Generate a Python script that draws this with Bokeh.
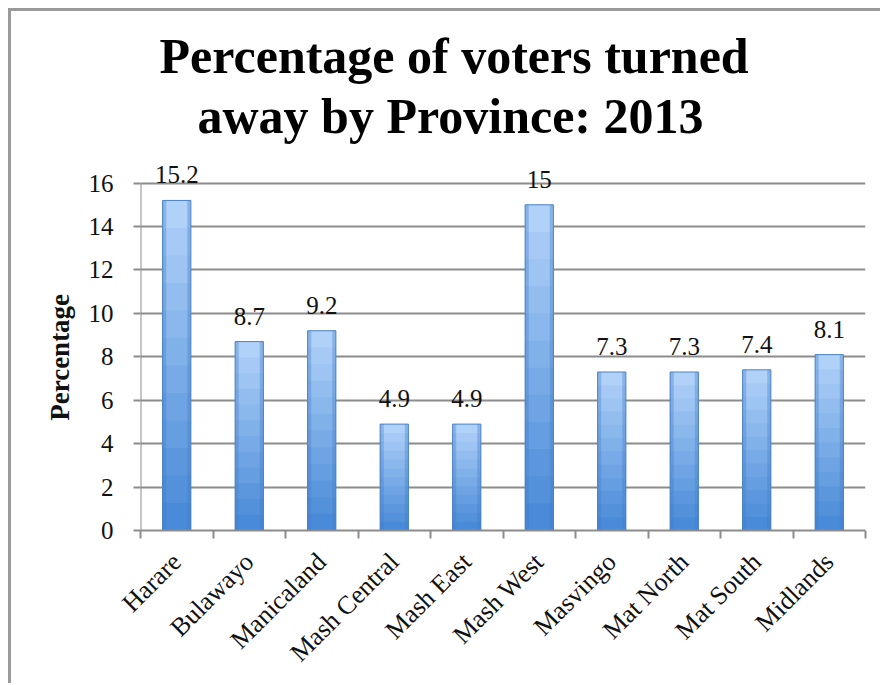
import numpy as np
from bokeh.plotting import figure
from bokeh.models import ColumnDataSource, FixedTicker, LabelSet, Range1d, Title
from bokeh.embed import file_html
from bokeh.resources import INLINE

provinces = ["Harare", "Bulawayo", "Manicaland", "Mash Central", "Mash East",
             "Mash West", "Masvingo", "Mat North", "Mat South", "Midlands"]
percent = [15.2, 8.7, 9.2, 4.9, 4.9, 15, 7.3, 7.3, 7.4, 8.1]
value_labels = ["15.2", "8.7", "9.2", "4.9", "4.9", "15", "7.3", "7.3", "7.4", "8.1"]
y_ticks = [0, 2, 4, 6, 8, 10, 12, 14, 16]
title_lines = ["Percentage of voters turned", "away by Province: 2013"]
y_label = "Percentage"

W, H = 872, 675
SERIF = "Liberation Serif"
GRID = "#8c8c8c"

n = len(provinces)
xc = [i + 0.5 for i in range(n)]

p = figure(width=W, height=H, output_backend="svg", toolbar_location=None,
           title_location=None,
           x_range=Range1d(0, n), y_range=Range1d(y_ticks[0], 17.5),
           min_border_left=129, min_border_right=18,
           min_border_top=139, min_border_bottom=156)
p.outline_line_color = None
p.styles = {"margin-left": "8px", "margin-top": "8px",
            "border-left": "3px solid #9a9a9a", "border-top": "3px solid #9a9a9a"}

# stepped vertical gradient bars
light = np.array([0xb0, 0xd1, 0xf8])
dark = np.array([0x4a, 0x8b, 0xd9])
N = 12
bw = 0.39
for k in range(N):
    t = k / (N - 1)
    c = (light * (1 - t) + dark * t).astype(int)
    col = "#%02x%02x%02x" % tuple(c)
    tops = [v * (N - k) / N for v in percent]
    p.vbar(x=xc, top=tops, bottom=0, width=bw, fill_color=col, line_color=None)
p.vbar(x=[x - bw / 2 + 0.025 for x in xc], top=percent, width=0.05,
       fill_color="#3f7cc8", fill_alpha=0.35, line_color=None)
p.vbar(x=[x + bw / 2 - 0.025 for x in xc], top=percent, width=0.05,
       fill_color="#3f7cc8", fill_alpha=0.35, line_color=None)
p.vbar(x=xc, top=percent, width=bw, fill_alpha=0, line_color="#4a82c4", line_width=1)

src = ColumnDataSource(dict(x=xc, y=percent, t=value_labels))
p.add_layout(LabelSet(x="x", y="y", text="t", source=src, text_align="center",
                      text_baseline="alphabetic", y_offset=17,
                      text_font=SERIF, text_font_size="25px", text_color="#111111"))

# y axis line only up to the top tick
p.segment(x0=[0], y0=[y_ticks[0]], x1=[0], y1=[y_ticks[-1]], line_color=GRID, line_width=2)

# axes
p.xaxis.ticker = FixedTicker(ticks=xc, minor_ticks=list(range(n + 1)))
p.xaxis.major_label_overrides = {x: name for x, name in zip(xc, provinces)}
p.xaxis.major_label_orientation = np.pi / 4
p.xaxis.major_tick_line_color = None
p.xaxis.major_tick_out = 0
p.xaxis.minor_tick_out = 8
p.xaxis.minor_tick_in = 0
p.xaxis.minor_tick_line_color = GRID
p.xaxis.minor_tick_line_width = 2
p.xaxis.major_label_standoff = 19
p.xaxis.major_label_text_font = SERIF
p.xaxis.major_label_text_font_size = "26px"
p.xaxis.major_label_text_color = "#111111"
p.xaxis.axis_line_color = GRID
p.xaxis.axis_line_width = 2

p.yaxis.ticker = FixedTicker(ticks=y_ticks, minor_ticks=[])
p.yaxis.major_tick_out = 7
p.yaxis.major_tick_in = 0
p.yaxis.major_tick_line_color = GRID
p.yaxis.major_tick_line_width = 2
p.yaxis.major_label_standoff = 20
p.yaxis.major_label_text_font = SERIF
p.yaxis.major_label_text_font_size = "25px"
p.yaxis.major_label_text_color = "#111111"
p.yaxis.axis_line_color = None
p.yaxis.axis_label = y_label + "\u00a0" * 5
p.yaxis.axis_label_text_font = SERIF
p.yaxis.axis_label_text_font_style = "bold"
p.yaxis.axis_label_text_font_size = "27px"
p.yaxis.axis_label_text_color = "#111111"
p.yaxis.axis_label_standoff = 11

p.xgrid.grid_line_color = None
p.ygrid.ticker = FixedTicker(ticks=y_ticks)
p.ygrid.grid_line_color = GRID
p.ygrid.grid_line_width = 2

# title: first added sits nearest the plot
for line, off, so in [(title_lines[1], 57, 13), (title_lines[0], 19, -8)]:
    p.add_layout(Title(text=line, align="left", offset=off, standoff=so,
                       text_font=SERIF, text_font_style="bold",
                       text_font_size="50px", text_color="#000000"), "above")

open("out.html", "w").write(file_html(p, INLINE))
